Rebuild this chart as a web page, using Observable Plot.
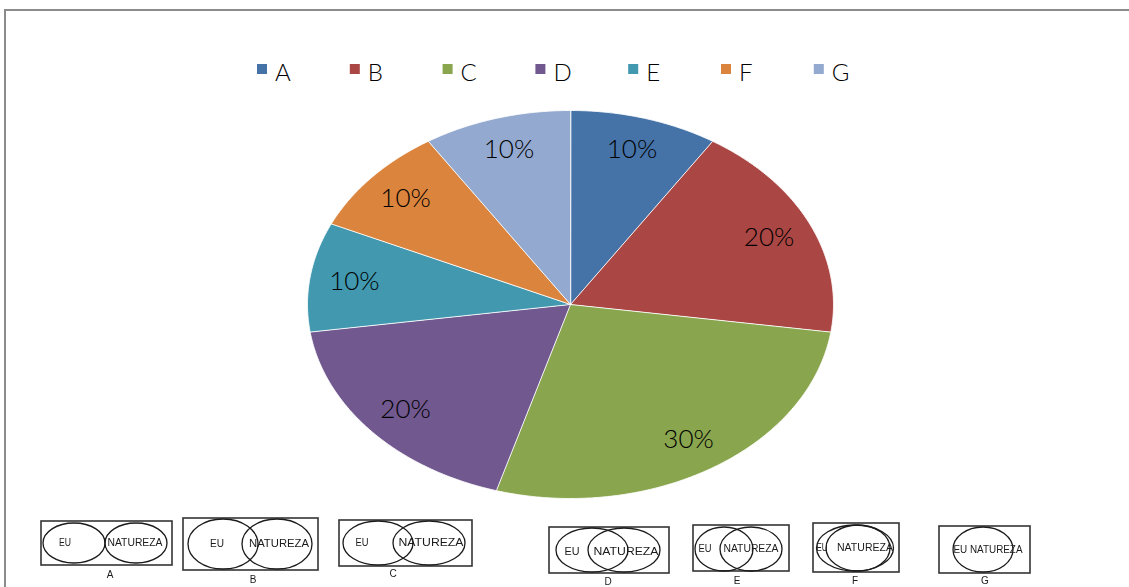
<!DOCTYPE html>
<html>
<head>
<meta charset="utf-8">
<script src="https://cdn.jsdelivr.net/npm/d3@7"></script>
<script src="https://cdn.jsdelivr.net/npm/@observablehq/plot@0.6"></script>
<style>
  body { margin: 0; background: #fff; }
  #wrap { position: relative; width: 1129px; height: 587px; overflow: hidden; font-family: Lato, "Open Sans", sans-serif; }
  #frame { position: absolute; left: 4px; top: 9px; width: 1200px; height: 700px; border: 2px solid #8b8b8b; box-sizing: border-box; }
  #chart, #legend, #diagrams { position: absolute; left: 0; top: 0; }
</style>
</head>
<body>
<div id="wrap">
  <div id="frame"></div>
  <div id="chart"></div>
  <svg id="legend" width="1129" height="100"></svg>
  <svg id="diagrams" width="1129" height="587"></svg>
</div>
<script>
// Answer categories and their shares (percent)
const categories = ["A", "B", "C", "D", "E", "F", "G"];
const shares = [10, 20, 30, 20, 10, 10, 10];
const colors = ["#4572A7", "#AA4643", "#89A54E", "#71588F", "#4198AF", "#DB843D", "#93A9CF"];

// Venn figure shown under each answer: how the two sets "EU" and "NATUREZA" relate
const diagramLayouts = [
  {key: "A", box: [41, 521, 131, 44], ellipses: [[74, 543, 31, 20], [136, 543, 31, 20]],
   texts: [["EU", 65, 546, 12], ["NATUREZA", 135, 546, 55]], label: [110, 578]},
  {key: "B", box: [183, 518, 135, 52], ellipses: [[223, 544, 35, 25], [277, 544, 35, 25]],
   texts: [["EU", 217, 547, 14], ["NATUREZA", 279, 547, 60]], label: [253, 583]},
  {key: "C", box: [339, 520, 133, 46], ellipses: [[378, 543, 35, 22], [429, 543, 36, 22]],
   texts: [["EU", 362, 546, 13], ["NATUREZA", 431, 546, 65]], label: [393, 577]},
  {key: "D", box: [549, 527, 120, 46], ellipses: [[592, 550, 36, 22], [624, 550, 36, 22]],
   texts: [["EU", 572, 555, 15], ["NATUREZA", 626, 555, 65]], label: [608, 585]},
  {key: "E", box: [693, 525, 96, 46], ellipses: [[724, 549, 29, 22], [751, 549, 31, 22]],
   texts: [["EU", 705, 552, 13], ["NATUREZA", 751, 552, 55]], label: [737, 584]},
  {key: "F", box: [813, 523, 86, 49], ellipses: [[855, 548, 38.5, 23], [858, 548, 32, 23]],
   texts: [["EU", 822, 551, 11], ["NATUREZA", 865, 551, 56]], label: [855, 584]},
  {key: "G", box: [939, 526, 91, 47], ellipses: [[983, 549.5, 30, 22.5]],
   texts: [["EU NATUREZA", 988, 553, 69]], label: [985, 584]}
];

// Slice outlines: walk each arc in unit coordinates (angle 0 at 12 o'clock, clockwise)
const arcs = d3.pie().sort(null).value(d => d.share)(categories.map((key, i) => ({key, share: shares[i]})));
const outline = [];
const labels = [];
for (const a of arcs) {
  const key = a.data.key;
  outline.push({key, x: 0, y: 0});
  const steps = Math.ceil((a.endAngle - a.startAngle) / (Math.PI / 360));
  for (let s = 0; s <= steps; ++s) {
    const t = a.startAngle + (a.endAngle - a.startAngle) * s / steps;
    outline.push({key, x: Math.sin(t), y: -Math.cos(t)});
  }
  const mid = (a.startAngle + a.endAngle) / 2;
  labels.push({key, x: 0.83 * Math.sin(mid), y: -0.83 * Math.cos(mid), text: `${a.data.share}%`});
}

const chart = Plot.plot({
  width: 1129,
  height: 587,
  margin: 0,
  style: {background: "transparent", fontFamily: "Lato, 'Open Sans', sans-serif"},
  x: {domain: [-1, 1], range: [307, 833], axis: null},
  y: {domain: [-1, 1], range: [110, 498], axis: null},
  color: {domain: categories, range: colors},
  marks: [
    Plot.line(outline, {x: "x", y: "y", z: "key", fill: "key", stroke: "#ffffff", strokeWidth: 1, strokeOpacity: 0.85, curve: "linear-closed"}),
    Plot.text(labels, {x: "x", y: "y", text: "text", fill: "#000", fontSize: 26, fontWeight: 300})
  ]
});
document.getElementById("chart").appendChild(chart);

// Legend row above the pie
const legend = d3.select("#legend");
const item = legend.selectAll("g").data(categories).join("g")
  .attr("transform", (d, i) => `translate(${257 + i * 92.8},0)`);
item.append("rect").attr("x", 0).attr("y", 64).attr("width", 10).attr("height", 10)
  .attr("fill", (d, i) => colors[i]);
item.append("text").attr("x", 18).attr("y", 81).text(d => d)
  .attr("font-size", 24).attr("font-weight", 300).attr("fill", "#000")
  .attr("font-family", "Lato, 'Open Sans', sans-serif");

// Venn figures under the pie
const svg = d3.select("#diagrams");
const defs = svg.append("defs");
defs.append("filter").attr("id", "soft").append("feGaussianBlur").attr("stdDeviation", 0.45);
const fig = svg.append("g").attr("filter", "url(#soft)")
  .selectAll("g").data(diagramLayouts).join("g");
fig.append("rect")
  .attr("x", d => d.box[0]).attr("y", d => d.box[1])
  .attr("width", d => d.box[2]).attr("height", d => d.box[3])
  .attr("fill", "#fff").attr("stroke", "#333").attr("stroke-width", 1.6);
fig.each(function(d) {
  const g = d3.select(this);
  g.selectAll("ellipse").data(d.ellipses).join("ellipse")
    .attr("cx", e => e[0]).attr("cy", e => e[1]).attr("rx", e => e[2]).attr("ry", e => e[3])
    .attr("fill", "none").attr("stroke", "#1a1a1a").attr("stroke-width", 1.3);
  g.selectAll("text.t").data(d.texts).join("text").attr("class", "t")
    .attr("x", t => t[1] - t[3] / 2).attr("y", t => t[2])
    .attr("textLength", t => t[3]).attr("lengthAdjust", "spacingAndGlyphs")
    .attr("font-size", 10).attr("font-family", "'Liberation Sans', Arial, sans-serif").attr("fill", "#1a1a1a")
    .text(t => t[0]);
  g.append("text").attr("x", d.label[0]).attr("y", d.label[1])
    .attr("text-anchor", "middle").attr("font-size", 10)
    .attr("font-family", "'Liberation Sans', Arial, sans-serif").attr("fill", "#1a1a1a")
    .text(d.key);
});
</script>
</body>
</html>
